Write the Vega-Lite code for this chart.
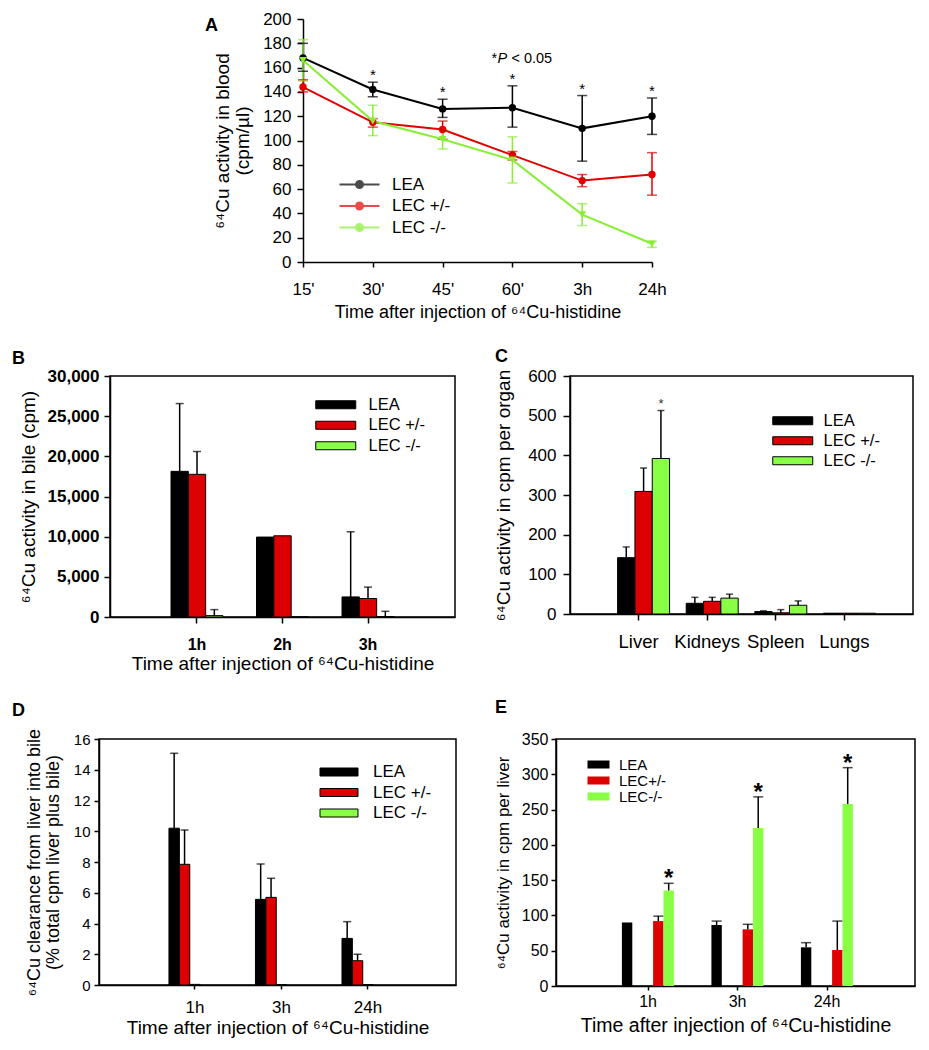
{
"$schema": "https://vega.github.io/schema/vega-lite/v6.json",
"padding": {"left": 0, "top": 10, "right": 0, "bottom": 0},
"background": "white",
"spacing": 0,
"resolve": {"scale": {"color": "independent", "x": "independent", "y": "independent", "xOffset": "independent"}, "legend": {"color": "independent"}},
"config": {
  "font": "Liberation Sans",
  "view": {"stroke": null},
  "axis": {"labelFont": "Liberation Sans", "titleFont": "Liberation Sans", "labelFontSize": 15, "titleFontSize": 15, "titleFontWeight": "normal", "labelColor": "#000", "titleColor": "#000", "domainColor": "#000", "tickColor": "#000", "domainWidth": 1.5, "tickWidth": 1.5, "grid": false, "labelFlush": false, "labelOverlap": false, "labelAngle": 0},
  "legend": {"labelFont": "Liberation Sans", "labelFontSize": 15, "labelColor": "#000", "padding": 0, "title": null},
  "title": {"font": "Liberation Sans", "fontSize": 18, "fontWeight": "bold", "anchor": "start", "frame": "group", "color": "#000", "offset": 0, "baseline": "alphabetic"}
},
"vconcat": [
  {"hconcat": [
    {"width": 303, "height": 328, "data": {"values": []}, "mark": "point"},
    {
      "width": 349, "height": 243,
      "title": {"text": "A", "dx": -98, "dy": 29},
      "data": {"values": [
        {"t": "15'", "g": "LEA", "v": 168, "lo": 157, "hi": 180, "sig": false},
        {"t": "30'", "g": "LEA", "v": 142, "lo": 136, "hi": 148, "sig": true},
        {"t": "45'", "g": "LEA", "v": 126, "lo": 119, "hi": 134, "sig": true},
        {"t": "60'", "g": "LEA", "v": 127, "lo": 111, "hi": 145, "sig": true},
        {"t": "3h", "g": "LEA", "v": 110, "lo": 83, "hi": 137, "sig": true},
        {"t": "24h", "g": "LEA", "v": 120, "lo": 105, "hi": 135, "sig": true},
        {"t": "15'", "g": "LEC +/-", "v": 144, "lo": 140, "hi": 150, "sig": false},
        {"t": "30'", "g": "LEC +/-", "v": 115, "lo": 111, "hi": 118, "sig": false},
        {"t": "45'", "g": "LEC +/-", "v": 109, "lo": 101, "hi": 116, "sig": false},
        {"t": "60'", "g": "LEC +/-", "v": 88, "lo": 84, "hi": 91, "sig": false},
        {"t": "3h", "g": "LEC +/-", "v": 67, "lo": 62, "hi": 72, "sig": false},
        {"t": "24h", "g": "LEC +/-", "v": 72, "lo": 55, "hi": 90, "sig": false},
        {"t": "15'", "g": "LEC -/-", "v": 166, "lo": 149, "hi": 183, "sig": false},
        {"t": "30'", "g": "LEC -/-", "v": 116, "lo": 104, "hi": 129, "sig": false},
        {"t": "45'", "g": "LEC -/-", "v": 101, "lo": 93, "hi": 109, "sig": false},
        {"t": "60'", "g": "LEC -/-", "v": 84, "lo": 65, "hi": 103, "sig": false},
        {"t": "3h", "g": "LEC -/-", "v": 39, "lo": 30, "hi": 48, "sig": false},
        {"t": "24h", "g": "LEC -/-", "v": 15, "lo": 12, "hi": 17, "sig": false}
      ]},
      "encoding": {
        "x": {"field": "t", "type": "ordinal", "scale": {"type": "point", "padding": 0, "domain": ["15'", "30'", "45'", "60'", "3h", "24h"]}, "title": "Time after injection of ⁶⁴Cu-histidine", "axis": {"tickSize": 5, "labelPadding": 14, "titlePadding": 6, "labelFontSize": 17, "titleFontSize": 18}},
        "color": {"field": "g", "type": "nominal", "scale": {"domain": ["LEA", "LEC +/-", "LEC -/-"], "range": ["#000000", "#e00000", "#88ee33"]},
          "legend": {"orient": "none", "legendX": 48, "legendY": 157, "symbolType": "M-4,0H4M-0.7,0A0.7,0.7 0 1,0 0.7,0A0.7,0.7 0 1,0 -0.7,0Z", "symbolSize": 100, "symbolStrokeWidth": 2, "labelOffset": 24, "rowPadding": 3.5, "labelFontSize": 17}}
      },
      "layer": [
        {"mark": {"type": "rule", "strokeWidth": 1.5}, "encoding": {"y": {"field": "lo", "type": "quantitative", "scale": {"domain": [0, 200]}, "title": ["⁶⁴Cu activity in blood", "(cpm/µl)"], "axis": {"values": [0, 20, 40, 60, 80, 100, 120, 140, 160, 180, 200], "tickSize": 6, "labelPadding": 6, "titlePadding": 10, "titleLineHeight": 20, "labelFontSize": 17, "titleFontSize": 19}}, "y2": {"field": "hi"}}},
        {"mark": {"type": "tick", "size": 10, "thickness": 1.5}, "encoding": {"y": {"field": "lo", "type": "quantitative", "title": ["⁶⁴Cu activity in blood", "(cpm/µl)"], "axis": {"values": [0, 20, 40, 60, 80, 100, 120, 140, 160, 180, 200], "tickSize": 6, "labelPadding": 6, "titlePadding": 10, "titleLineHeight": 20, "labelFontSize": 17, "titleFontSize": 19}}}},
        {"mark": {"type": "tick", "size": 10, "thickness": 1.5}, "encoding": {"y": {"field": "hi", "type": "quantitative", "title": ["⁶⁴Cu activity in blood", "(cpm/µl)"], "axis": {"values": [0, 20, 40, 60, 80, 100, 120, 140, 160, 180, 200], "tickSize": 6, "labelPadding": 6, "titlePadding": 10, "titleLineHeight": 20, "labelFontSize": 17, "titleFontSize": 19}}}},
        {"mark": {"type": "line", "strokeWidth": 2}, "encoding": {"y": {"field": "v", "type": "quantitative", "title": ["⁶⁴Cu activity in blood", "(cpm/µl)"], "axis": {"values": [0, 20, 40, 60, 80, 100, 120, 140, 160, 180, 200], "tickSize": 6, "labelPadding": 6, "titlePadding": 10, "titleLineHeight": 20, "labelFontSize": 17, "titleFontSize": 19}}}},
        {"transform": [{"filter": "datum.g !== 'LEC -/-'"}], "mark": {"type": "point", "shape": "circle", "filled": true, "opacity": 1, "size": 55}, "encoding": {"y": {"field": "v", "type": "quantitative", "title": ["⁶⁴Cu activity in blood", "(cpm/µl)"], "axis": {"values": [0, 20, 40, 60, 80, 100, 120, 140, 160, 180, 200], "tickSize": 6, "labelPadding": 6, "titlePadding": 10, "titleLineHeight": 20, "labelFontSize": 17, "titleFontSize": 19}}}},
        {"transform": [{"filter": "datum.g === 'LEC -/-'"}], "mark": {"type": "point", "shape": "triangle-down", "filled": true, "opacity": 1, "size": 60}, "encoding": {"y": {"field": "v", "type": "quantitative", "title": ["⁶⁴Cu activity in blood", "(cpm/µl)"], "axis": {"values": [0, 20, 40, 60, 80, 100, 120, 140, 160, 180, 200], "tickSize": 6, "labelPadding": 6, "titlePadding": 10, "titleLineHeight": 20, "labelFontSize": 17, "titleFontSize": 19}}}},
        {"transform": [{"filter": "datum.sig"}], "mark": {"type": "text", "text": "*", "fontSize": 15, "baseline": "middle", "dy": -7}, "encoding": {"y": {"field": "hi", "type": "quantitative", "title": ["⁶⁴Cu activity in blood", "(cpm/µl)"], "axis": {"values": [0, 20, 40, 60, 80, 100, 120, 140, 160, 180, 200], "tickSize": 6, "labelPadding": 6, "titlePadding": 10, "titleLineHeight": 20, "labelFontSize": 17, "titleFontSize": 19}}, "color": {"value": "#000"}}},
        {"data": {"values": [{"t": "60'", "y": 167, "s": "*"}]}, "mark": {"type": "text", "fontSize": 14.5, "align": "left", "baseline": "middle", "dx": -21}, "encoding": {"y": {"field": "y", "type": "quantitative", "title": ["⁶⁴Cu activity in blood", "(cpm/µl)"], "axis": {"values": [0, 20, 40, 60, 80, 100, 120, 140, 160, 180, 200], "tickSize": 6, "labelPadding": 6, "titlePadding": 10, "titleLineHeight": 20, "labelFontSize": 17, "titleFontSize": 19}}, "text": {"field": "s"}, "color": {"value": "#000"}}},
        {"data": {"values": [{"t": "60'", "y": 167, "s": "P"}]}, "mark": {"type": "text", "fontSize": 14.5, "fontStyle": "italic", "align": "left", "baseline": "middle", "dx": -15}, "encoding": {"y": {"field": "y", "type": "quantitative", "title": ["⁶⁴Cu activity in blood", "(cpm/µl)"], "axis": {"values": [0, 20, 40, 60, 80, 100, 120, 140, 160, 180, 200], "tickSize": 6, "labelPadding": 6, "titlePadding": 10, "titleLineHeight": 20, "labelFontSize": 17, "titleFontSize": 19}}, "text": {"field": "s"}, "color": {"value": "#000"}}},
        {"data": {"values": [{"t": "60'", "y": 167, "s": "< 0.05"}]}, "mark": {"type": "text", "fontSize": 14.5, "align": "left", "baseline": "middle", "dx": -1}, "encoding": {"y": {"field": "y", "type": "quantitative", "title": ["⁶⁴Cu activity in blood", "(cpm/µl)"], "axis": {"values": [0, 20, 40, 60, 80, 100, 120, 140, 160, 180, 200], "tickSize": 6, "labelPadding": 6, "titlePadding": 10, "titleLineHeight": 20, "labelFontSize": 17, "titleFontSize": 19}}, "text": {"field": "s"}, "color": {"value": "#000"}}}
      ]
    }
  ], "spacing": 0, "bounds": "flush", "resolve": {"scale": {"color": "independent"}, "legend": {"color": "independent"}}},
  {"hconcat": [
    {"width": 110, "height": 322, "data": {"values": []}, "mark": "point"},
    {
      "width": 345, "height": 241,
      "view": {"stroke": "#000", "strokeWidth": 1.5},
      "title": {"text": "B", "dx": -98, "dy": 5},
      "data": {"values": [
        {"t": "1h", "g": "LEA", "v": 18130, "hi": 26570},
        {"t": "1h", "g": "LEC +/-", "v": 17760, "hi": 20600},
        {"t": "1h", "g": "LEC -/-", "v": 170, "hi": 920},
        {"t": "2h", "g": "LEA", "v": 9950, "hi": null},
        {"t": "2h", "g": "LEC +/-", "v": 10110, "hi": null},
        {"t": "2h", "g": "LEC -/-", "v": 0, "hi": null},
        {"t": "3h", "g": "LEA", "v": 2500, "hi": 10610},
        {"t": "3h", "g": "LEC +/-", "v": 2300, "hi": 3720},
        {"t": "3h", "g": "LEC -/-", "v": 60, "hi": 710}
      ]},
      "encoding": {
        "x": {"field": "t", "type": "nominal", "scale": {"domain": ["1h", "2h", "3h"], "paddingInner": 0.392, "paddingOuter": 0.7135}, "title": "Time after injection of ⁶⁴Cu-histidine", "axis": {"tickSize": 6, "labelPadding": 13, "titlePadding": 2, "labelFontWeight": "bold", "labelFontSize": 16, "titleFontSize": 19}},
        "xOffset": {"field": "g", "type": "nominal", "scale": {"domain": ["LEA", "LEC +/-", "LEC -/-"], "paddingInner": 0, "paddingOuter": 0}}
      },
      "layer": [
        {"mark": {"type": "bar", "stroke": "#000", "strokeWidth": 1},
         "encoding": {
           "y": {"field": "v", "type": "quantitative", "scale": {"domain": [0, 30000]}, "title": "⁶⁴Cu activity in bile (cpm)", "axis": {"values": [0, 5000, 10000, 15000, 20000, 25000, 30000], "format": ",d", "tickSize": 6, "labelPadding": 5, "titlePadding": 9, "labelFontWeight": "bold", "labelFontSize": 17, "titleFontSize": 19}},
           "color": {"field": "g", "type": "nominal", "scale": {"domain": ["LEA", "LEC +/-", "LEC -/-"], "range": ["#000000", "#dd0000", "#88ff44"]},
             "legend": {"orient": "none", "legendX": 217.5, "legendY": 20.5, "symbolType": "M-4,-0.8H4V0.8H-4Z", "symbolSize": 100, "symbolStrokeColor": "#000", "symbolStrokeWidth": 1, "labelOffset": 24.5, "rowPadding": 3.5, "labelFontSize": 16.5}}}},
        {"transform": [{"filter": "datum.hi != null"}], "mark": {"type": "rule", "color": "#000", "strokeWidth": 1.5}, "encoding": {"y": {"field": "v", "type": "quantitative", "title": "⁶⁴Cu activity in bile (cpm)", "axis": {"values": [0, 5000, 10000, 15000, 20000, 25000, 30000], "format": ",d", "tickSize": 6, "labelPadding": 5, "titlePadding": 9, "labelFontWeight": "bold", "labelFontSize": 17, "titleFontSize": 19}}, "y2": {"field": "hi"}}},
        {"transform": [{"filter": "datum.hi != null"}], "mark": {"type": "tick", "color": "#000", "size": 8, "thickness": 1.5}, "encoding": {"y": {"field": "hi", "type": "quantitative", "title": "⁶⁴Cu activity in bile (cpm)", "axis": {"values": [0, 5000, 10000, 15000, 20000, 25000, 30000], "format": ",d", "tickSize": 6, "labelPadding": 5, "titlePadding": 9, "labelFontWeight": "bold", "labelFontSize": 17, "titleFontSize": 19}}}}
      ]
    },
    {"width": 115, "height": 10, "data": {"values": []}, "mark": "point"},
    {
      "width": 343, "height": 238,
      "view": {"stroke": "#000", "strokeWidth": 1.5},
      "title": {"text": "C", "dx": -75, "dy": 3},
      "data": {"values": [
        {"t": "Liver", "g": "LEA", "v": 142, "hi": 169, "sig": false},
        {"t": "Liver", "g": "LEC +/-", "v": 309, "hi": 368, "sig": false},
        {"t": "Liver", "g": "LEC -/-", "v": 392, "hi": 513, "sig": true},
        {"t": "Kidneys", "g": "LEA", "v": 27, "hi": 42, "sig": false},
        {"t": "Kidneys", "g": "LEC +/-", "v": 32, "hi": 42, "sig": false},
        {"t": "Kidneys", "g": "LEC -/-", "v": 40, "hi": 50, "sig": false},
        {"t": "Spleen", "g": "LEA", "v": 6, "hi": 8, "sig": false},
        {"t": "Spleen", "g": "LEC +/-", "v": 3, "hi": 11, "sig": false},
        {"t": "Spleen", "g": "LEC -/-", "v": 22, "hi": 33, "sig": false},
        {"t": "Lungs", "g": "LEA", "v": 2, "hi": null, "sig": false},
        {"t": "Lungs", "g": "LEC +/-", "v": 2, "hi": null, "sig": false},
        {"t": "Lungs", "g": "LEC -/-", "v": 2, "hi": null, "sig": false}
      ]},
      "encoding": {
        "x": {"field": "t", "type": "nominal", "scale": {"domain": ["Liver", "Kidneys", "Spleen", "Lungs"], "paddingInner": 0.388, "paddingOuter": 0.694}, "title": null, "axis": {"tickSize": 6, "labelPadding": 12, "labelFontSize": 18.5}},
        "xOffset": {"field": "g", "type": "nominal", "scale": {"domain": ["LEA", "LEC +/-", "LEC -/-"], "paddingInner": 0, "paddingOuter": 0}}
      },
      "layer": [
        {"mark": {"type": "bar", "stroke": "#000", "strokeWidth": 1},
         "encoding": {
           "y": {"field": "v", "type": "quantitative", "scale": {"domain": [0, 600]}, "title": "⁶⁴Cu activity in cpm per organ", "axis": {"values": [0, 100, 200, 300, 400, 500, 600], "tickSize": 7, "labelPadding": 7, "titlePadding": 14, "labelFontSize": 17, "titleFontSize": 19}},
           "color": {"field": "g", "type": "nominal", "scale": {"domain": ["LEA", "LEC +/-", "LEC -/-"], "range": ["#000000", "#dd0000", "#88ff44"]},
             "legend": {"orient": "none", "legendX": 214.5, "legendY": 36.5, "symbolType": "M-4,-0.8H4V0.8H-4Z", "symbolSize": 100, "symbolStrokeColor": "#000", "symbolStrokeWidth": 1, "labelOffset": 22.5, "rowPadding": 3, "labelFontSize": 16.5}}}},
        {"transform": [{"filter": "datum.hi != null"}], "mark": {"type": "rule", "color": "#000", "strokeWidth": 1.5}, "encoding": {"y": {"field": "v", "type": "quantitative", "title": "⁶⁴Cu activity in cpm per organ", "axis": {"values": [0, 100, 200, 300, 400, 500, 600], "tickSize": 7, "labelPadding": 7, "titlePadding": 14, "labelFontSize": 17, "titleFontSize": 19}}, "y2": {"field": "hi"}}},
        {"transform": [{"filter": "datum.hi != null"}], "mark": {"type": "tick", "color": "#000", "size": 7, "thickness": 1.5}, "encoding": {"y": {"field": "hi", "type": "quantitative", "title": "⁶⁴Cu activity in cpm per organ", "axis": {"values": [0, 100, 200, 300, 400, 500, 600], "tickSize": 7, "labelPadding": 7, "titlePadding": 14, "labelFontSize": 17, "titleFontSize": 19}}}},
        {"transform": [{"filter": "datum.sig"}], "mark": {"type": "text", "text": "*", "fontSize": 13, "baseline": "middle", "dy": -7, "color": "#333"}, "encoding": {"y": {"field": "hi", "type": "quantitative", "title": "⁶⁴Cu activity in cpm per organ", "axis": {"values": [0, 100, 200, 300, 400, 500, 600], "tickSize": 7, "labelPadding": 7, "titlePadding": 14, "labelFontSize": 17, "titleFontSize": 19}}}}
      ]
    }
  ], "spacing": 0, "bounds": "flush", "resolve": {"scale": {"color": "independent"}, "legend": {"color": "independent"}}},
  {"hconcat": [
    {"width": 99, "height": 10, "data": {"values": []}, "mark": "point"},
    {
      "width": 357, "height": 246,
      "view": {"stroke": "#000", "strokeWidth": 1.5},
      "title": {"text": "D", "dx": -87, "dy": -4},
      "data": {"values": [
        {"t": "1h", "g": "LEA", "v": 10.2, "hi": 15.07},
        {"t": "1h", "g": "LEC +/-", "v": 7.85, "hi": 10.08},
        {"t": "1h", "g": "LEC -/-", "v": 0.04, "hi": null},
        {"t": "3h", "g": "LEA", "v": 5.57, "hi": 7.87},
        {"t": "3h", "g": "LEC +/-", "v": 5.7, "hi": 6.94},
        {"t": "3h", "g": "LEC -/-", "v": 0.03, "hi": null},
        {"t": "24h", "g": "LEA", "v": 3.03, "hi": 4.12},
        {"t": "24h", "g": "LEC +/-", "v": 1.58, "hi": 2.0},
        {"t": "24h", "g": "LEC -/-", "v": 0.03, "hi": null}
      ]},
      "encoding": {
        "x": {"field": "t", "type": "nominal", "scale": {"domain": ["1h", "3h", "24h"], "paddingInner": 0.399, "paddingOuter": 0.763, "align": 0.53}, "title": "Time after injection of ⁶⁴Cu-histidine", "axis": {"tickSize": 4, "labelPadding": 10, "titlePadding": 3, "labelFontSize": 17, "titleFontSize": 19}},
        "xOffset": {"field": "g", "type": "nominal", "scale": {"domain": ["LEA", "LEC +/-", "LEC -/-"], "paddingInner": 0, "paddingOuter": 0}}
      },
      "layer": [
        {"mark": {"type": "bar", "stroke": "#000", "strokeWidth": 1},
         "encoding": {
           "y": {"field": "v", "type": "quantitative", "scale": {"domain": [0, 16]}, "title": ["⁶⁴Cu clearance from liver into bile", "(% total cpm liver plus bile)"], "axis": {"values": [0, 2, 4, 6, 8, 10, 12, 14, 16], "tickSize": 5, "labelPadding": 4, "titlePadding": 11, "titleLineHeight": 19, "labelFontSize": 15, "titleFontSize": 18}},
           "color": {"field": "g", "type": "nominal", "scale": {"domain": ["LEA", "LEC +/-", "LEC -/-"], "range": ["#000000", "#dd0000", "#88ff44"]},
             "legend": {"orient": "none", "legendX": 231.5, "legendY": 24.5, "symbolType": "M-3.8,-0.8H3.8V0.8H-3.8Z", "symbolSize": 100, "symbolStrokeColor": "#000", "symbolStrokeWidth": 1, "labelOffset": 25.5, "rowPadding": 2.5, "labelFontSize": 17}}}},
        {"transform": [{"filter": "datum.hi != null"}], "mark": {"type": "rule", "color": "#000", "strokeWidth": 1.5}, "encoding": {"y": {"field": "v", "type": "quantitative", "title": ["⁶⁴Cu clearance from liver into bile", "(% total cpm liver plus bile)"], "axis": {"values": [0, 2, 4, 6, 8, 10, 12, 14, 16], "tickSize": 5, "labelPadding": 4, "titlePadding": 11, "titleLineHeight": 19, "labelFontSize": 15, "titleFontSize": 18}}, "y2": {"field": "hi"}}},
        {"transform": [{"filter": "datum.hi != null"}], "mark": {"type": "tick", "color": "#000", "size": 8, "thickness": 1.5}, "encoding": {"y": {"field": "hi", "type": "quantitative", "title": ["⁶⁴Cu clearance from liver into bile", "(% total cpm liver plus bile)"], "axis": {"values": [0, 2, 4, 6, 8, 10, 12, 14, 16], "tickSize": 5, "labelPadding": 4, "titlePadding": 11, "titleLineHeight": 19, "labelFontSize": 15, "titleFontSize": 18}}}}
      ]
    },
    {"width": 100, "height": 10, "data": {"values": []}, "mark": "point"},
    {
      "width": 359, "height": 247,
      "view": {"stroke": "#000", "strokeWidth": 1.5},
      "title": {"text": "E", "dx": -61, "dy": -10},
      "data": {"values": [
        {"t": "1h", "g": "LEA", "v": 90, "hi": null, "sig": false},
        {"t": "1h", "g": "LEC+/-", "v": 92, "hi": 99, "sig": false},
        {"t": "1h", "g": "LEC-/-", "v": 135.5, "hi": 145.5, "sig": true},
        {"t": "3h", "g": "LEA", "v": 86.4, "hi": 92, "sig": false},
        {"t": "3h", "g": "LEC+/-", "v": 80.3, "hi": 87.4, "sig": false},
        {"t": "3h", "g": "LEC-/-", "v": 224, "hi": 268, "sig": true},
        {"t": "24h", "g": "LEA", "v": 54.8, "hi": 61.4, "sig": false},
        {"t": "24h", "g": "LEC+/-", "v": 51, "hi": 92, "sig": false},
        {"t": "24h", "g": "LEC-/-", "v": 258, "hi": 309.4, "sig": true}
      ]},
      "encoding": {
        "x": {"field": "t", "type": "nominal", "scale": {"domain": ["1h", "3h", "24h"], "paddingInner": 0.416, "paddingOuter": 0.7135, "align": 0.516}, "title": "Time after injection of ⁶⁴Cu-histidine", "axis": {"tickSize": 4, "labelPadding": 3.5, "titlePadding": 7, "labelFontSize": 16, "titleFontSize": 19.5}},
        "xOffset": {"field": "g", "type": "nominal", "scale": {"domain": ["LEA", "LEC+/-", "LEC-/-"], "paddingInner": 0.36, "paddingOuter": 0.18}}
      },
      "layer": [
        {"mark": {"type": "bar"},
         "encoding": {
           "y": {"field": "v", "type": "quantitative", "scale": {"domain": [0, 350]}, "title": "⁶⁴Cu activity in cpm per liver", "axis": {"values": [0, 50, 100, 150, 200, 250, 300, 350], "tickSize": 5, "labelPadding": 3, "titlePadding": 9, "labelFontSize": 16, "titleFontSize": 17}},
           "color": {"field": "g", "type": "nominal", "scale": {"domain": ["LEA", "LEC+/-", "LEC-/-"], "range": ["#000000", "#dd0000", "#88ff44"]},
             "legend": {"orient": "none", "legendX": 35, "legendY": 18, "symbolType": "M-2.2,-0.8H2.2V0.8H-2.2Z", "symbolSize": 100, "labelOffset": 13, "rowPadding": 0, "labelFontSize": 15}}}},
        {"transform": [{"filter": "datum.hi != null"}], "mark": {"type": "rule", "color": "#000", "strokeWidth": 1.5}, "encoding": {"y": {"field": "v", "type": "quantitative", "title": "⁶⁴Cu activity in cpm per liver", "axis": {"values": [0, 50, 100, 150, 200, 250, 300, 350], "tickSize": 5, "labelPadding": 3, "titlePadding": 9, "labelFontSize": 16, "titleFontSize": 17}}, "y2": {"field": "hi"}}},
        {"transform": [{"filter": "datum.hi != null"}], "mark": {"type": "tick", "color": "#000", "size": 10, "thickness": 1.5}, "encoding": {"y": {"field": "hi", "type": "quantitative", "title": "⁶⁴Cu activity in cpm per liver", "axis": {"values": [0, 50, 100, 150, 200, 250, 300, 350], "tickSize": 5, "labelPadding": 3, "titlePadding": 9, "labelFontSize": 16, "titleFontSize": 17}}}},
        {"transform": [{"filter": "datum.sig"}], "mark": {"type": "text", "text": "*", "fontSize": 24, "fontWeight": "bold", "baseline": "middle", "dy": -4, "color": "#000"}, "encoding": {"y": {"field": "hi", "type": "quantitative", "title": "⁶⁴Cu activity in cpm per liver", "axis": {"values": [0, 50, 100, 150, 200, 250, 300, 350], "tickSize": 5, "labelPadding": 3, "titlePadding": 9, "labelFontSize": 16, "titleFontSize": 17}}}}
      ]
    }
  ], "spacing": 0, "bounds": "flush", "resolve": {"scale": {"color": "independent"}, "legend": {"color": "independent"}}}
]
}
